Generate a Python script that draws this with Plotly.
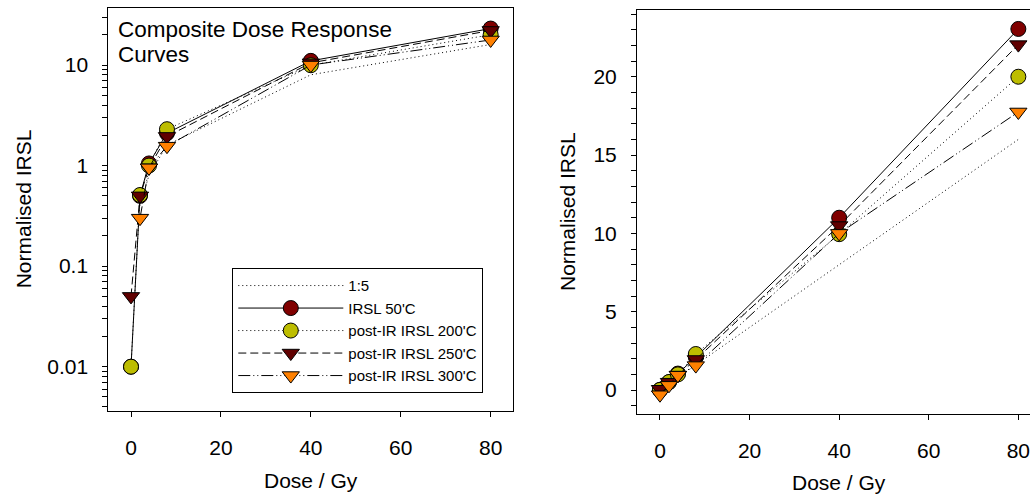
import plotly.graph_objects as go

# ---- data ----
dose = [0, 2, 4, 8, 40, 80]
ratio_1_5 = [0, 0.4, 0.8, 1.6, 8, 16]
irsl_50 = [0.01, 0.5, 1.05, 2.1, 11.0, 23.05]
pir_200 = [0.01, 0.51, 1.0, 2.3, 9.95, 20.0]
pir_250 = [0.05, 0.5, 0.95, 1.95, 10.5, 22.05]
pir_300 = [-0.3, 0.3, 0.95, 1.56, 10.0, 17.75]

series_names = ["1:5", "IRSL 50'C", "post-IR IRSL 200'C",
                "post-IR IRSL 250'C", "post-IR IRSL 300'C"]
series_values = [ratio_1_5, irsl_50, pir_200, pir_250, pir_300]

log_tickvals = [0.01, 0.1, 1, 10]
log_ticktext = ["0.01", "0.1", "1", "10"]
lin_tickvals = [0, 5, 10, 15, 20]
x_tickvals = [0, 20, 40, 60, 80]

title_lines = ["Composite Dose Response", "Curves"]

# ---- styles ----
styles = [
    dict(mode="lines", dash="1px,3px", symbol="circle", color="#000000"),
    dict(mode="lines+markers", dash="solid", symbol="circle", color="#800000"),
    dict(mode="lines+markers", dash="1px,3px", symbol="circle", color="#BDBD00"),
    dict(mode="lines+markers", dash="8px,4px", symbol="triangle-down", color="#600000"),
    dict(mode="lines+markers", dash="12px,3px,1px,3px,1px,3px", symbol="triangle-down", color="#FF8000"),
]

W, H = 1030, 498
FONT = "Liberation Sans, Arial, sans-serif"

fig = go.Figure()
for panel, (xa, ya) in enumerate([("x", "y"), ("x2", "y2")]):
    for name, vals, st in zip(series_names, series_values, styles):
        # on the log panel, non-positive values cannot be shown (dropped, as in the original)
        yv = [v if v > 0 else None for v in vals] if panel == 0 else vals
        fig.add_trace(go.Scatter(
            x=dose, y=yv, name=name, mode=st["mode"],
            xaxis=xa, yaxis=ya,
            line=dict(color="black", width=1, dash=st["dash"]),
            marker=dict(symbol=st["symbol"], size=15,
                        color=st["color"], line=dict(color="black", width=1)),
            showlegend=(panel == 0),
            connectgaps=False,
            cliponaxis=(panel == 0),
        ))

def px_x(p):
    return p / W

def px_y(p):
    return 1 - p / H

minor_log = []
for dec in [0.001, 0.01, 0.1, 1, 10]:
    for k in range(2, 10):
        minor_log.append(round(dec * k, 6))

common_axis = dict(
    showline=True, linecolor="black", linewidth=1,
    ticks="outside", ticklen=5, tickcolor="black", tickwidth=1,
    showgrid=False, zeroline=False, automargin=False,
    ticklabeloverflow="allow",
    tickfont=dict(family=FONT, size=21, color="black"),
)

fig.update_layout(
    width=W, height=H,
    margin=dict(l=0, r=0, t=0, b=0),
    paper_bgcolor="white", plot_bgcolor="white",
    font=dict(family=FONT, color="black"),
    xaxis=dict(domain=[px_x(108.3), px_x(512.7)], range=[-5.05, 84.9],
               tickmode="array", tickvals=x_tickvals, mirror=True,
               ticklabelstandoff=13, anchor="y", **common_axis),
    yaxis=dict(domain=[px_y(410.7), px_y(8)], type="log", range=[-2.4375, 1.567],
               tickmode="array", tickvals=log_tickvals, ticktext=log_ticktext,
               minor=dict(tickmode="array", tickvals=minor_log, ticks="outside",
                          ticklen=5, tickcolor="black", showgrid=False),
               mirror=True, ticklabelstandoff=10, anchor="x", **common_axis),
    xaxis2=dict(domain=[px_x(637), 1.0], range=[-5.13, 82.6],
                tickmode="array", tickvals=x_tickvals, mirror=True,
                ticklabelstandoff=13, anchor="y2", **common_axis),
    yaxis2=dict(domain=[px_y(414), px_y(10)], range=[-1.53, 24.26],
                tickmode="array", tickvals=lin_tickvals,
                minor=dict(dtick=1, ticks="outside", ticklen=5,
                           tickcolor="black", showgrid=False),
                mirror=False, ticklabelstandoff=10, anchor="x2", **common_axis),
    legend=dict(x=px_x(232.3), y=px_y(268.3), xanchor="left", yanchor="top",
                bgcolor="white", bordercolor="black", borderwidth=1,
                font=dict(family=FONT, size=15, color="black"),
                itemwidth=105, tracegroupgap=0),
    showlegend=True,
)

annotations = [
    dict(text=title_lines[0], x=px_x(116), y=px_y(29),
         xref="paper", yref="paper", xanchor="left", yanchor="middle",
         showarrow=False, font=dict(family=FONT, size=22.5, color="black")),
    dict(text=title_lines[1], x=px_x(116), y=px_y(54),
         xref="paper", yref="paper", xanchor="left", yanchor="middle",
         showarrow=False, font=dict(family=FONT, size=22.5, color="black")),
    dict(text="Normalised IRSL", x=px_x(23), y=px_y(209.3), textangle=-90,
         xref="paper", yref="paper", xanchor="center", yanchor="middle",
         showarrow=False, font=dict(family=FONT, size=21, color="black")),
    dict(text="Dose / Gy", x=px_x(310.5), y=px_y(480),
         xref="paper", yref="paper", xanchor="center", yanchor="middle",
         showarrow=False, font=dict(family=FONT, size=21, color="black")),
    dict(text="Normalised IRSL", x=px_x(568), y=px_y(212), textangle=-90,
         xref="paper", yref="paper", xanchor="center", yanchor="middle",
         showarrow=False, font=dict(family=FONT, size=21, color="black")),
    dict(text="Dose / Gy", x=px_x(838.5), y=px_y(482),
         xref="paper", yref="paper", xanchor="center", yanchor="middle",
         showarrow=False, font=dict(family=FONT, size=21, color="black")),
]
fig.update_layout(annotations=annotations)

fig.write_html("out.html")
